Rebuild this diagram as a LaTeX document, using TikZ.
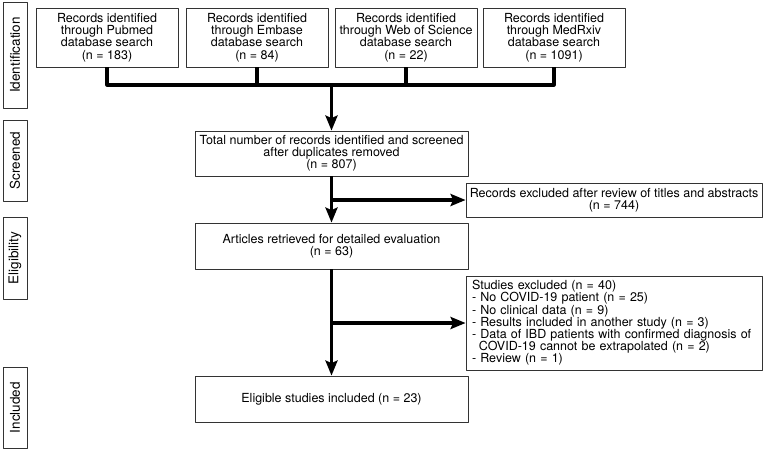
\documentclass[tikz,border=0pt]{standalone}
\usepackage{fontspec}
\setmainfont{TeX Gyre Heros}
\usetikzlibrary{arrows.meta,positioning}
\begin{document}
\begin{tikzpicture}[x=1pt,y=-1pt,line join=round,
    font=\fontsize{12.5}{12.2}\selectfont,
    box/.style={draw=black!80,line width=0.8pt,align=center,inner sep=2pt},
    phase/.style={box,rotate=90,minimum height=24pt,font=\fontsize{13.5}{14}\selectfont},
    flow/.style={line width=3.2pt,-{Stealth[length=15pt,width=12pt,inset=2.5pt]}},
    link/.style={line width=3.2pt}]
    \useasboundingbox (0,0) rectangle (767,451);
    % phase labels
    \node[phase,minimum width=106pt] (lid) at (15,55) {Identification};
    \node[phase,minimum width=81pt] (lscr) at (15,160.5) {Screened};
    \node[phase,minimum width=82pt] (lelig) at (15,258) {Eligibility};
    \node[phase,minimum width=81pt] (lincl) at (15,407.5) {Included};
    % sources
    \node[box,minimum width=142pt,minimum height=59pt] (pubmed) at (107,37.5)
        {Records identified\\through Pubmed\\database search\\(n = 183)};
    \node[box,minimum width=142pt,minimum height=59pt] (embase) at (257,37.5)
        {Records identified\\through Embase\\database search\\(n = 84)};
    \node[box,minimum width=142pt,minimum height=59pt] (wos) at (406,37.5)
        {Records identified\\through Web of Science\\database search\\(n = 22)};
    \node[box,minimum width=142pt,minimum height=59pt] (medrxiv) at (554,37.5)
        {Records identified\\through MedRxiv\\database search\\(n = 1091)};
    \coordinate (join) at (331.5,85);
    % main column
    \node[box,minimum width=273pt,minimum height=45pt] (total) at (331.5,153.5)
        {Total number of records identified and screened\\after duplicates removed\\(n = 807)};
    \node[box,minimum width=273pt,minimum height=46pt] (articles) at (331.5,246)
        {Articles retrieved for detailed evaluation\\(n = 63)};
    \node[box,minimum width=273pt,minimum height=46pt] (eligible) at (331.5,399)
        {Eligible studies included (n = 23)};
    % exclusions
    \node[box,minimum width=296pt,minimum height=34pt] (excla) at (614,200)
        {Records excluded after review of titles and abstracts\\(n = 744)};
    \node[box,minimum width=296pt,minimum height=94pt,align=left,text width=284pt,inner xsep=6pt] (exclb) at (614,323)
        {Studies excluded (n = 40)\\- No COVID-19 patient (n = 25)\\- No clinical data (n = 9)\\- Results included in another study (n = 3)\\- Data of IBD patients with confirmed diagnosis of\\\hspace*{0.55em}COVID-19 cannot be extrapolated (n = 2)\\- Review (n = 1)};
    % connectors
    \draw[link] (pubmed.south) |- (join);
    \draw[link] (medrxiv.south) |- (join);
    \draw[link] (embase.south) -- (embase.south |- join);
    \draw[link] (wos.south) -- (wos.south |- join);
    \draw[flow] (join) -- (total.north);
    \draw[flow] (total.south) -- (articles.north);
    \draw[flow] (total.south |- excla.west) -- (excla.west);
    \draw[flow] (articles.south) -- (eligible.north);
    \draw[flow] (articles.south |- exclb.west) -- (exclb.west);
\end{tikzpicture}
\end{document}
